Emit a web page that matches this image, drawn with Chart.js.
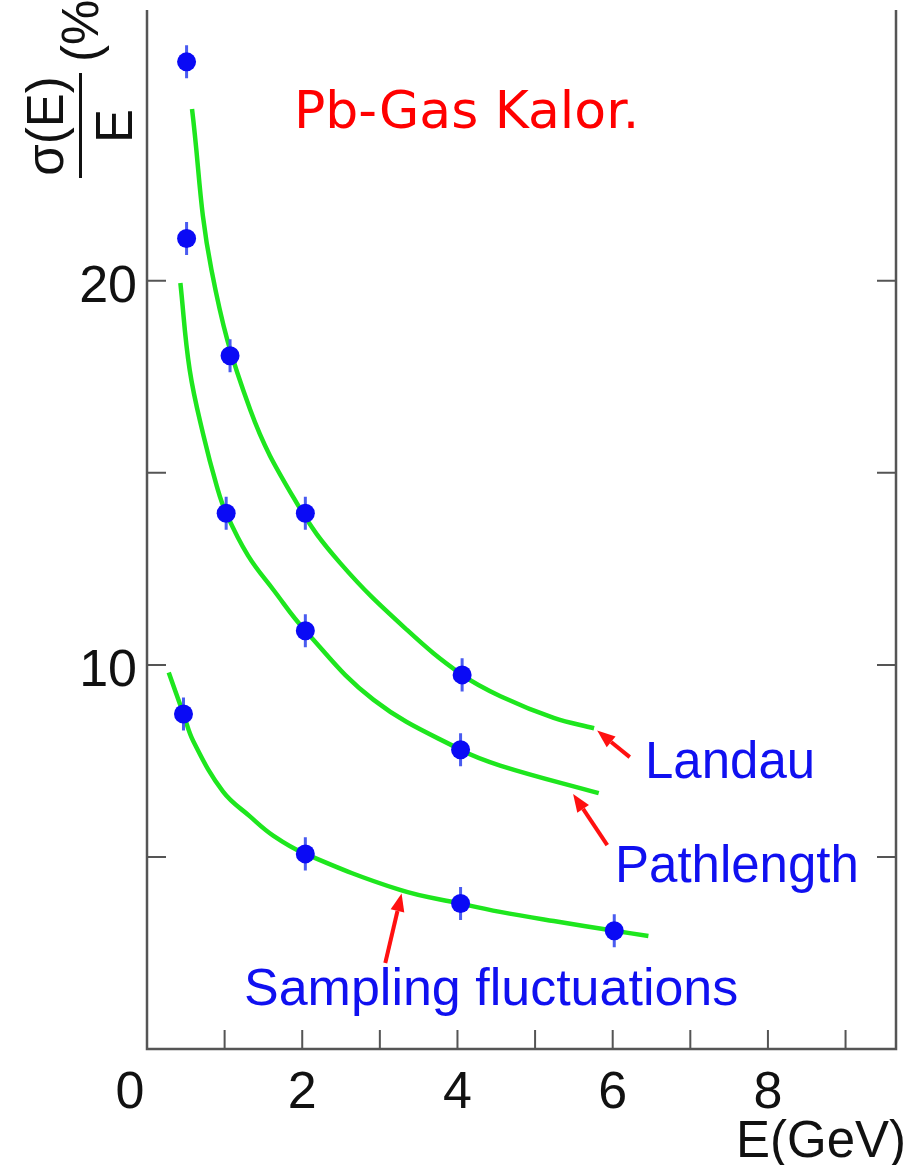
<!DOCTYPE html>
<html>
<head>
<meta charset="utf-8">
<script src="https://cdn.jsdelivr.net/npm/chart.js@4.4.0/dist/chart.umd.min.js"></script>
<style>
  html, body { margin: 0; padding: 0; background: #fff; }
  canvas { display: block; }
</style>
</head>
<body>
<canvas id="chart" width="916" height="1165"></canvas>
<script>
// measured points (E in GeV, sigma/E in %)
const landauE = [0.51, 1.07, 2.04, 4.06];
const landauRes = [25.7, 18.05, 13.95, 9.74];
const pathE = [0.51, 1.02, 2.04, 4.04];
const pathRes = [21.1, 13.95, 10.89, 7.79];
const samplE = [0.47, 2.04, 4.04, 6.02];
const samplRes = [8.72, 5.08, 3.79, 3.08];
const errRes = 0.43;

// fitted curves
const landauFitE = [0.58, 0.83, 1.33, 1.93, 2.49, 3.35, 4.06, 4.59, 5.24, 5.76];
const landauFit = [24.47, 20.29, 16.64, 14.21, 12.65, 10.91, 9.74, 9.15, 8.62, 8.35];
const pathFitE = [0.43, 0.55, 0.73, 0.9, 1.02, 1.3, 1.63, 2.04, 2.92, 4.04, 4.55, 5.82];
const pathFit = [19.94, 17.68, 15.95, 14.65, 13.95, 12.85, 11.95, 10.89, 9.09, 7.79, 7.38, 6.66];
const samplFitE = [0.28, 0.47, 0.6, 0.98, 1.33, 1.63, 2.04, 3.26, 4.03, 4.55, 5.24, 6.02, 6.46];
const samplFit = [9.8, 8.72, 8.0, 6.7, 6.05, 5.55, 5.08, 4.14, 3.79, 3.57, 3.33, 3.08, 2.94];

const xTickLabels = ['0', '2', '4', '6', '8'];
const xTickValues = [0, 2, 4, 6, 8];
const xMinorTicks = [1, 2, 3, 4, 5, 6, 7, 8, 9];
const yTickLabels = ['10', '20'];
const yTickValues = [10, 20];
const yMinorTicks = [5, 10, 15, 20];

// arrows: [tailE, tailRes, headE, headRes]
const arrows = [
  [6.22, 7.6, 5.8, 8.29],
  [5.93, 5.31, 5.49, 6.64],
  [3.07, 2.24, 3.28, 4.05]
];

const toXY = (xs, ys) => xs.map((x, i) => ({ x, y: ys[i] }));

const GREEN = '#1ee61e';
const BLUE = '#0a0af5';
const AXIS = '#555';

function curve(xs, ys) {
  return { data: toXY(xs, ys), showLine: true, borderColor: GREEN, borderWidth: 4.5,
    pointRadius: 0, tension: 0.4, fill: false, order: 2 };
}
function points(xs, ys) {
  return { data: toXY(xs, ys), showLine: false, pointRadius: 9.5, pointBackgroundColor: BLUE,
    pointBorderColor: BLUE, pointBorderWidth: 0, order: 1, isPoints: true };
}

const decor = {
  id: 'decor',
  beforeDatasetsDraw(chart) {
    const { ctx, chartArea: a, scales: { x, y } } = chart;
    ctx.save();
    ctx.strokeStyle = AXIS;
    ctx.lineWidth = 2.5;
    ctx.beginPath();
    ctx.moveTo(a.left, a.top); ctx.lineTo(a.left, a.bottom);
    ctx.lineTo(a.right, a.bottom); ctx.lineTo(a.right, a.top);
    ctx.stroke();
    ctx.lineWidth = 2;
    ctx.beginPath();
    xMinorTicks.forEach(v => {
      const px = x.getPixelForValue(v);
      ctx.moveTo(px, a.bottom); ctx.lineTo(px, a.bottom - 19);
    });
    yMinorTicks.forEach(v => {
      const py = y.getPixelForValue(v);
      ctx.moveTo(a.left, py); ctx.lineTo(a.left + 19, py);
      ctx.moveTo(a.right, py); ctx.lineTo(a.right - 19, py);
    });
    ctx.stroke();
    ctx.restore();
  },
  beforeDatasetDraw(chart, args) {
    const ds = chart.data.datasets[args.index];
    if (!ds.isPoints) return;
    const { ctx, scales: { x, y } } = chart;
    ctx.save();
    ctx.strokeStyle = '#4a5cf0';
    ctx.lineWidth = 3;
    ctx.beginPath();
    ds.data.forEach(p => {
      const px = x.getPixelForValue(p.x);
      ctx.moveTo(px, y.getPixelForValue(p.y - errRes));
      ctx.lineTo(px, y.getPixelForValue(p.y + errRes));
    });
    ctx.stroke();
    ctx.restore();
  },
  afterDraw(chart) {
    const { ctx, chartArea: a, scales: { x, y } } = chart;
    ctx.save();
    // tick labels
    ctx.fillStyle = '#111';
    ctx.font = '52px "Liberation Sans", Arial, sans-serif';
    ctx.textBaseline = 'alphabetic';
    ctx.textAlign = 'center';
    xTickValues.forEach((v, i) => {
      const px = v === 0 ? 130 : x.getPixelForValue(v);
      ctx.fillText(xTickLabels[i], px, 1108);
    });
    ctx.textAlign = 'right';
    yTickValues.forEach((v, i) => {
      ctx.fillText(yTickLabels[i], 137, y.getPixelForValue(v) + 21);
    });
    // x title
    ctx.font = '51px "Liberation Sans", Arial, sans-serif';
    ctx.fillText('E(GeV)', 906, 1157);
    // y title, rotated fraction
    ctx.save();
    ctx.rotate(-Math.PI / 2);
    ctx.font = '51px "Liberation Sans", Arial, sans-serif';
    ctx.textAlign = 'center';
    ctx.fillText('σ(E)', -126, 63);
    ctx.fillText('E', -126, 132);
    ctx.textAlign = 'left';
    ctx.fillText('(%)', -62, 98);
    ctx.restore();
    ctx.fillStyle = '#111';
    ctx.fillRect(79, 73, 3, 105);
    // arrows
    ctx.strokeStyle = '#ff1010';
    ctx.fillStyle = '#ff1010';
    ctx.lineWidth = 4;
    arrows.forEach(([tx, ty, hx, hy]) => {
      const x0 = x.getPixelForValue(tx), y0 = y.getPixelForValue(ty);
      const x1 = x.getPixelForValue(hx), y1 = y.getPixelForValue(hy);
      const ang = Math.atan2(y1 - y0, x1 - x0);
      const len = 18, wid = 7;
      const bx = x1 - len * Math.cos(ang), by = y1 - len * Math.sin(ang);
      ctx.beginPath();
      ctx.moveTo(x0, y0); ctx.lineTo(bx, by);
      ctx.stroke();
      ctx.beginPath();
      ctx.moveTo(x1, y1);
      ctx.lineTo(bx + wid * Math.sin(ang), by - wid * Math.cos(ang));
      ctx.lineTo(bx - wid * Math.sin(ang), by + wid * Math.cos(ang));
      ctx.closePath();
      ctx.fill();
    });
    // annotations
    ctx.textAlign = 'left';
    ctx.fillStyle = '#ff0000';
    ctx.font = '52px "DejaVu Sans", sans-serif';
    ctx.fillText('Pb-Gas Kalor.', 294, 128);
    ctx.fillStyle = '#1010f0';
    ctx.font = '51px "Liberation Sans", Arial, sans-serif';
    ctx.fillText('Landau', 645, 778);
    ctx.fillText('Pathlength', 615, 882);
    ctx.font = '52px "Liberation Sans", Arial, sans-serif';
    ctx.fillText('Sampling fluctuations', 244, 1005);
    ctx.restore();
  }
};

new Chart(document.getElementById('chart').getContext('2d'), {
  type: 'scatter',
  data: {
    datasets: [
      curve(landauFitE, landauFit),
      curve(pathFitE, pathFit),
      curve(samplFitE, samplFit),
      points(landauE, landauRes),
      points(pathE, pathRes),
      points(samplE, samplRes)
    ]
  },
  options: {
    responsive: false,
    animation: false,
    layout: { padding: { left: 147, top: 10, right: 20, bottom: 116 } },
    scales: {
      x: { type: 'linear', min: 0, max: 9.65, display: false },
      y: { type: 'linear', min: 0, max: 27.05, display: false }
    },
    plugins: { legend: { display: false }, tooltip: { enabled: false } }
  },
  plugins: [decor]
});
</script>
</body>
</html>
